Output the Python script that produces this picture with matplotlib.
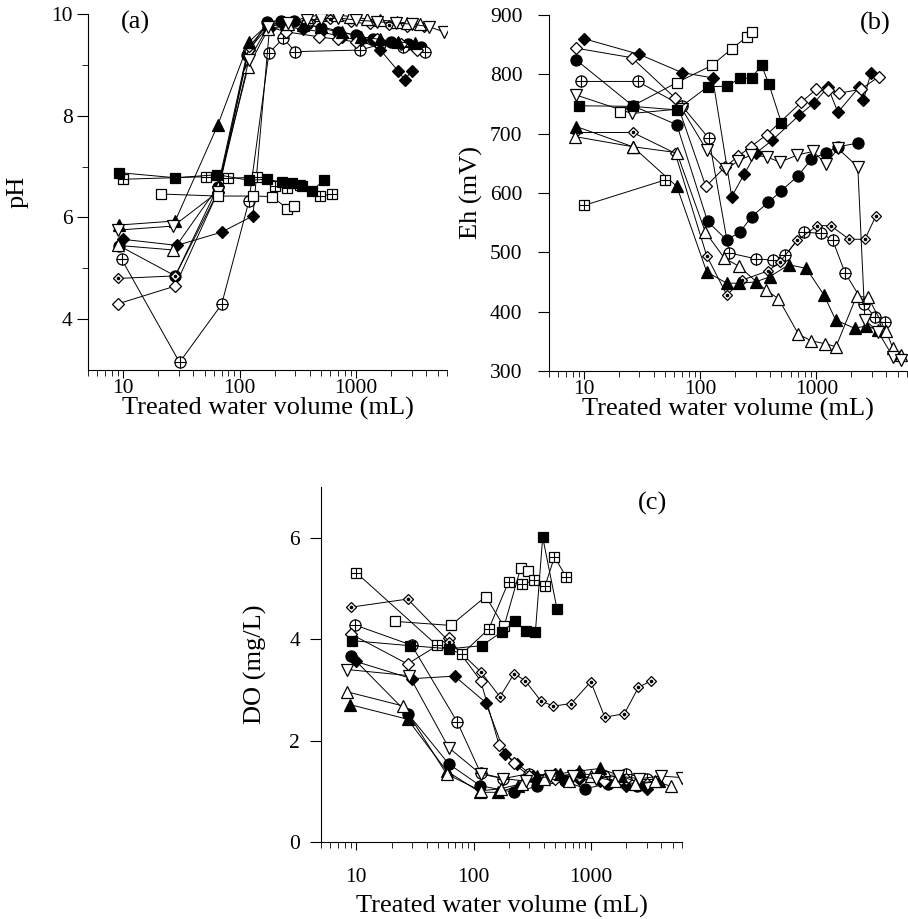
import matplotlib
matplotlib.use("Agg")
import matplotlib.pyplot as plt
from matplotlib.ticker import LogLocator, NullFormatter, FixedLocator, FixedFormatter

plt.rcParams['font.family'] = ['Liberation Serif', 'DejaVu Serif']
plt.rcParams['font.size'] = 19

# ---------------- (a) pH ----------------
a_fsq_v = [9.3, 28, 64.5, 120, 173, 231, 282, 345, 418, 524]
a_fsq = [6.88, 6.78, 6.84, 6.73, 6.75, 6.69, 6.67, 6.61, 6.52, 6.73]
a_osq_v = [21, 65, 131, 190, 256, 292]
a_osq = [6.46, 6.42, 6.42, 6.41, 6.17, 6.22]
a_psq_v = [10, 51, 80, 142, 200, 256, 330, 486, 620]
a_psq = [6.75, 6.80, 6.77, 6.79, 6.62, 6.58, 6.63, 6.42, 6.46]
a_fci_v = [9.3, 28, 65, 115, 173, 224, 292, 380, 500, 700, 1000, 1400, 2000, 2800, 3600]
a_fci = [5.44, 4.85, 6.6, 9.2, 9.85, 9.87, 9.87, 9.8, 9.72, 9.65, 9.58, 9.5, 9.45, 9.4, 9.35]
a_pci_v = [9.7, 30.5, 70, 120, 178, 236, 300, 1075, 1600, 2500, 3900]
a_pci = [5.18, 3.15, 4.29, 6.32, 9.23, 9.52, 9.26, 9.29, 9.4, 9.35, 9.26]
a_fdi_v = [9.9, 29, 70, 130, 180, 250, 350, 500, 750, 1100, 1600, 2300, 2600, 3000]
a_fdi = [5.57, 5.45, 5.71, 6.03, 9.7, 9.75, 9.7, 9.65, 9.55, 9.48, 9.3, 8.87, 8.71, 8.88]
a_odi_v = [9, 28, 65, 120, 175, 250, 480, 700, 1000, 1500, 2400, 3300]
a_odi = [4.3, 4.65, 6.5, 9.3, 9.75, 9.65, 9.55, 9.5, 9.45, 9.5, 9.4, 9.3]
a_ddi_v = [9, 28, 65, 120, 175, 260, 400, 600, 900, 1300, 1900, 2700, 3800]
a_ddi = [4.8, 4.85, 6.5, 9.35, 9.8, 9.8, 9.85, 9.9, 9.85, 9.8, 9.78, 9.75, 9.75]
a_ftr_v = [9.2, 28, 65, 120, 175, 250, 350, 500, 750, 1100, 1600, 2300, 3200]
a_ftr = [5.85, 5.93, 7.82, 9.45, 9.8, 9.82, 9.78, 9.75, 9.65, 9.55, 9.5, 9.45, 9.42]
a_otr_v = [9, 27, 65, 118, 175, 260, 380, 490, 680, 890, 1230, 1600, 2230, 2700, 3500]
a_otr = [5.45, 5.36, 6.6, 8.95, 9.7, 9.8, 9.95, 9.97, 9.98, 9.95, 9.9, 9.88, 9.85, 9.82, 9.8]
a_odt_v = [9, 27, 65, 120, 175, 260, 380, 500, 700, 1000, 1500, 2200, 3000, 4200, 5600]
a_odt = [5.75, 5.83, 6.5, 9.1, 9.75, 9.82, 9.88, 9.9, 9.92, 9.88, 9.85, 9.82, 9.8, 9.75, 9.65]

# ---------------- (b) Eh ----------------
b_fsq_v = [9.1, 26.3, 63, 116, 169, 220, 277, 338, 390, 501]
b_fsq = [747, 746, 740, 779, 780, 793, 794, 815, 784, 718]
b_osq_v = [20.6, 63, 126, 187, 252, 277]
b_osq = [736, 786, 815, 843, 863, 871]
b_psq_v = [10, 50]
b_psq = [579, 622]
b_fci_v = [8.6, 26.3, 63, 116, 169, 220, 277, 385, 501, 697, 906, 1218, 1535, 2275]
b_fci = [824, 747, 715, 552, 521, 534, 560, 584, 604, 629, 657, 668, 678, 684]
b_pci_v = [9.4, 29, 69.6, 119, 178, 301, 422, 538, 783, 1088, 1380, 1762, 2570, 3190, 3890]
b_pci = [788, 788, 747, 692, 499, 489, 487, 495, 534, 532, 521, 466, 413, 391, 383]
b_fdi_v = [10, 29.6, 69.6, 128, 187, 240, 302, 417, 712, 955, 1260, 1535, 2323, 2547, 2958]
b_fdi = [860, 834, 803, 794, 594, 632, 667, 689, 731, 752, 778, 736, 778, 757, 803]
b_odi_v = [8.6, 25.9, 61, 112, 164, 213, 273, 373, 743, 1000, 1260, 1563, 2432, 3443]
b_odi = [844, 828, 760, 611, 644, 662, 678, 698, 753, 775, 774, 768, 775, 796]
b_ddi_v = [8.6, 26.3, 61, 114, 170, 229, 387, 487, 682, 1020, 1328, 1918, 2620, 3250]
b_ddi = [702, 702, 667, 494, 428, 453, 469, 484, 520, 545, 545, 522, 522, 561]
b_ftr_v = [8.6, 26.3, 63, 114, 169, 216, 300, 398, 579, 820, 1164, 1466, 2133, 2685, 3420]
b_ftr = [712, 678, 611, 467, 448, 448, 450, 459, 479, 473, 428, 386, 372, 376, 369]
b_otr_v = [8.4, 26.3, 63, 111, 162, 214, 370, 472, 702, 900, 1188, 1477, 2218, 2793, 3984, 4580, 5380]
b_otr = [695, 678, 668, 534, 490, 477, 436, 422, 362, 351, 346, 341, 426, 424, 367, 338, 327]
b_odt_v = [8.6, 25.9, 69.6, 114, 167, 213, 273, 373, 485, 687, 935, 1218, 1535, 2275, 2620, 3400, 4570, 5400]
b_odt = [765, 734, 742, 672, 640, 654, 664, 661, 652, 664, 670, 649, 675, 644, 386, 366, 324, 318]

# ---------------- (c) DO ----------------
c_fsq_v = [9.2, 29, 62, 117, 174, 225, 280, 337, 389, 516]
c_fsq = [3.97, 3.87, 3.81, 3.87, 4.14, 4.35, 4.16, 4.14, 6.01, 4.59]
c_osq_v = [21.4, 64, 127, 182, 253, 289]
c_osq = [4.35, 4.27, 4.84, 4.25, 5.41, 5.34]
c_psq_v = [10, 48.7, 80, 135, 199, 259, 330, 408, 490, 617]
c_psq = [5.31, 3.88, 3.71, 4.2, 5.13, 5.08, 5.16, 5.05, 5.62, 5.23]
c_fci_v = [9, 27.8, 61.4, 114, 222, 350, 600, 900, 1400, 2500]
c_fci = [3.67, 2.52, 1.54, 1.11, 0.98, 1.1, 1.2, 1.05, 1.15, 1.1]
c_pci_v = [9.7, 29.7, 72.5, 115, 180, 300, 500, 800, 1300, 2000, 3000]
c_pci = [4.28, 3.88, 2.37, 1.36, 1.25, 1.35, 1.3, 1.35, 1.3, 1.35, 1.25]
c_fdi_v = [9.9, 29.7, 69, 127, 186, 237, 320, 500, 800, 1200, 2000, 3000]
c_fdi = [3.56, 3.22, 3.27, 2.75, 1.73, 1.54, 1.3, 1.35, 1.25, 1.2, 1.1, 1.05]
c_odi_v = [9, 27.4, 62, 115, 165, 220, 300, 500, 800, 1300, 2000, 3000]
c_odi = [4.1, 3.51, 4.02, 3.18, 1.92, 1.55, 1.3, 1.25, 1.3, 1.2, 1.25, 1.15]
c_ddi_v = [9, 27.4, 62, 115, 168, 222, 276, 376, 481, 682, 1000, 1318, 1935, 2552, 3280]
c_ddi = [4.63, 4.79, 3.95, 3.36, 2.86, 3.32, 3.18, 2.78, 2.68, 2.73, 3.16, 2.46, 2.53, 3.05, 3.18]
c_ftr_v = [8.8, 27.4, 59, 114, 163, 240, 350, 550, 800, 1200, 1800, 2700, 3800]
c_ftr = [2.71, 2.42, 1.4, 0.98, 0.98, 1.1, 1.3, 1.35, 1.4, 1.45, 1.3, 1.15, 1.2]
c_otr_v = [8.4, 25.2, 59, 115, 170, 260, 400, 650, 1000, 1600, 2400, 3500, 4800]
c_otr = [2.96, 2.68, 1.34, 1.01, 1.05, 1.15, 1.25, 1.2, 1.3, 1.2, 1.15, 1.2, 1.1]
c_odt_v = [8.4, 28.3, 61.4, 115, 180, 280, 450, 700, 1100, 1700, 2600, 4000, 6000]
c_odt = [3.4, 3.28, 1.86, 1.34, 1.25, 1.2, 1.3, 1.3, 1.25, 1.3, 1.25, 1.3, 1.27]

# marker styles: (marker, size, face colour, overlay marker)
styles = {
    'fsq': ('s', 7.5, 'black', None),
    'osq': ('s', 7.5, 'white', None),
    'psq': ('s', 7.5, 'white', '+'),
    'fci': ('o', 8, 'black', None),
    'pci': ('o', 8, 'white', '+'),
    'fdi': ('D', 6, 'black', None),
    'odi': ('D', 6, 'white', None),
    'ddi': ('D', 5, 'white', '.'),
    'ftr': ('^', 8, 'black', None),
    'otr': ('^', 8, 'white', None),
    'odt': ('v', 8, 'white', None),
}

panel_a = [('fci', a_fci_v, a_fci), ('pci', a_pci_v, a_pci), ('fdi', a_fdi_v, a_fdi),
           ('odi', a_odi_v, a_odi), ('ddi', a_ddi_v, a_ddi), ('ftr', a_ftr_v, a_ftr),
           ('otr', a_otr_v, a_otr), ('odt', a_odt_v, a_odt), ('osq', a_osq_v, a_osq),
           ('psq', a_psq_v, a_psq), ('fsq', a_fsq_v, a_fsq)]
panel_b = [('fci', b_fci_v, b_fci), ('pci', b_pci_v, b_pci), ('fdi', b_fdi_v, b_fdi),
           ('odi', b_odi_v, b_odi), ('ddi', b_ddi_v, b_ddi), ('ftr', b_ftr_v, b_ftr),
           ('otr', b_otr_v, b_otr), ('odt', b_odt_v, b_odt), ('osq', b_osq_v, b_osq),
           ('psq', b_psq_v, b_psq), ('fsq', b_fsq_v, b_fsq)]
panel_c = [('fci', c_fci_v, c_fci), ('pci', c_pci_v, c_pci), ('fdi', c_fdi_v, c_fdi),
           ('odi', c_odi_v, c_odi), ('ddi', c_ddi_v, c_ddi), ('ftr', c_ftr_v, c_ftr),
           ('otr', c_otr_v, c_otr), ('odt', c_odt_v, c_odt), ('osq', c_osq_v, c_osq),
           ('psq', c_psq_v, c_psq), ('fsq', c_fsq_v, c_fsq)]


def draw(ax, series):
    for key, v, y in series:
        m, ms, fc, over = styles[key]
        ax.plot(v, y, color='black', lw=0.7, marker=m, ms=ms, mfc=fc,
                mec='black', mew=0.9)
        if over == '+':
            ax.plot(v, y, ls='none', marker='+', ms=ms, color='black', mew=0.8)
        elif over == '.':
            ax.plot(v, y, ls='none', marker='o', ms=1.6, color='black')


def style(ax, ylim, yticks, ylabel, lab, lab_xy, xpad, ypad, ylab_x, xlab_y, yminor=None):
    ax.set_xscale('log')
    ax.set_xlim(5, 6000)
    ax.set_ylim(*ylim)
    ax.set_yticks(yticks)
    if yminor is not None:
        ax.set_yticks(yminor, minor=True)
    ax.xaxis.set_major_locator(FixedLocator([10, 100, 1000]))
    ax.xaxis.set_major_formatter(FixedFormatter(['10', '100', '1000']))
    ax.xaxis.set_minor_locator(LogLocator(base=10, subs=range(2, 10)))
    ax.xaxis.set_minor_formatter(NullFormatter())
    for s in ['top', 'right']:
        ax.spines[s].set_visible(False)
    for s in ['left', 'bottom']:
        ax.spines[s].set_linewidth(0.8)
    ax.tick_params(axis='x', which='major', direction='out', length=6, width=0.8,
                   pad=xpad, labelsize=15.5)
    ax.tick_params(axis='x', which='minor', direction='out', length=4, width=0.6)
    ax.tick_params(axis='y', which='major', direction='out', length=8, width=0.8,
                   pad=ypad, labelsize=15.5)
    ax.tick_params(axis='y', which='minor', direction='out', length=4, width=0.6)
    ax.set_ylabel(ylabel)
    ax.yaxis.set_label_coords(ylab_x, 0.5)
    ax.set_xlabel('Treated water volume (mL)')
    ax.xaxis.set_label_coords(0.5, xlab_y)
    ax.text(lab_xy[0], lab_xy[1], lab, transform=ax.transAxes, ha='center', va='center')


fig = plt.figure(figsize=(9.08, 9.19), dpi=100)
ax_a = fig.add_axes([0.0969, 0.5974, 0.3954, 0.3874])
ax_b = fig.add_axes([0.6046, 0.5963, 0.3940, 0.3874])
ax_c = fig.add_axes([0.3535, 0.0838, 0.3976, 0.3863])

draw(ax_a, panel_a)
draw(ax_b, panel_b)
draw(ax_c, panel_c)

style(ax_a, (3, 10), [4, 6, 8, 10], 'pH', '(a)', (0.131, 0.975), 0.5, 3,
      -0.165, -0.075, yminor=[5, 7, 9])
style(ax_b, (300, 900), [300, 400, 500, 600, 700, 800, 900], 'Eh (mV)', '(b)',
      (0.911, 0.975), 0.5, 11, -0.185, -0.075)
style(ax_c, (0, 7), [0, 2, 4, 6], 'DO (mg/L)', '(c)', (0.917, 0.955), 13, 7,
      -0.15, -0.15)

fig.savefig('out.png', dpi=100)
